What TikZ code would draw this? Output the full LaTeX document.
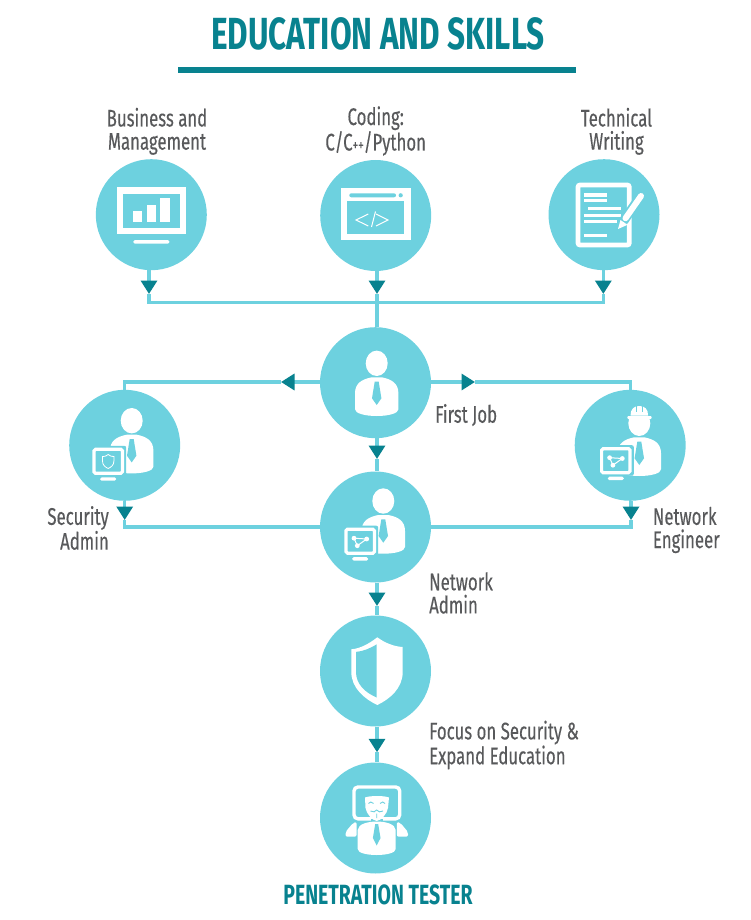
\documentclass[tikz,border=0pt]{standalone}
\usepackage{fontspec}
\setmainfont[FakeStretch=0.70,FakeBold=0.3,BoldFeatures={FakeStretch=0.70,FakeBold=0}]{Fira Sans}
\usetikzlibrary{arrows.meta,positioning}
\definecolor{skyTeal}{HTML}{6DD1DF}
\definecolor{deepTeal}{HTML}{08828F}
\definecolor{inkGray}{HTML}{58595B}
\tikzset{
    x=1pt, y=-1pt,
    badgeNode/.style={circle, fill=skyTeal, minimum size=111pt, inner sep=0pt},
    wire/.style={draw=skyTeal, line width=3.3pt},
    flow/.style={wire, -{Triangle[length=13.5pt, width=16pt, color=deepTeal, fill=deepTeal]}},
    textNode/.style={text=inkGray, font=\fontsize{24}{23.2}\selectfont, inner sep=0pt},
    headNode/.style={text=deepTeal, font=\bfseries\fontsize{45}{45}\selectfont, inner sep=0pt},
    pics/person/.style={code={
        \fill[white] (0,0) ellipse (11 and 12.7);
        \fill[white] (-5,14) .. controls (-15,16) and (-21.7,20) .. (-21.7,30) -- (-21.7,46)
            .. controls (-21.7,50) and (-12,52.7) .. (0,52.7)
            .. controls (12,52.7) and (21.7,50) .. (21.7,46) -- (21.7,30)
            .. controls (21.7,20) and (15,16) .. (5,14) -- cycle;
        \fill[skyTeal] (-2,18.4) -- (2,18.4) -- (4.7,35) -- (0,41.7) -- (-4.7,35) -- cycle;
    }},
    pics/screen/.style={code={
        \fill[skyTeal, rounded corners=2pt] (-18,-15.5) rectangle (18,15);
        \draw[white, line width=3.2pt, rounded corners=1.5pt] (-14.2,-12) rectangle (14.2,12);
        \fill[white, rounded corners=1.5pt] (-8,16) rectangle (8,19.4);
    }},
    pics/graphmark/.style={code={
        \draw[white, line width=1pt] (-6.2,-3) -- (6.5,-2.2) -- (-2.9,4.5) -- cycle;
        \fill[white] (-6.2,-3) circle (2.4) (6.5,-2.2) circle (2.4) (-2.9,4.5) circle (2.4);
    }},
}
\begin{document}
\begin{tikzpicture}
    \useasboundingbox (0,0) rectangle (750,920);

    % Title
    \node[headNode] (title) at (378,34) {EDUCATION AND SKILLS};
    \fill[deepTeal] (178,67) rectangle (576,73);

    % Circles
    \node[badgeNode] (biz) at (151.3,214.7) {};
    \node[badgeNode] (code) at (375.7,215.5) {};
    \node[badgeNode] (tech) at (604,214.7) {};
    \node[badgeNode] (first) at (375.5,382.7) {};
    \node[badgeNode] (secAdmin) at (124.7,445.3) {};
    \node[badgeNode] (netEng) at (630.2,445.3) {};
    \node[badgeNode] (netAdmin) at (375.5,527) {};
    \node[badgeNode] (focus) at (375.5,671) {};
    \node[badgeNode] (tester) at (375.5,818) {};

    % Labels
    \node[textNode, align=center, above=4pt of biz, xshift=5.7pt] (bizText) {Business and\\Management};
    \node[textNode, align=center, above=4pt of code] (codeText) {Coding:\\C/C{\fontsize{16}{16}\selectfont ++}/Python};
    \node[textNode, align=center, above=4pt of tech, xshift=12.5pt] (techText) {Technical\\Writing};
    \node[textNode, anchor=west] (firstText) at (435,415) {First Job};
    \node[textNode, align=right, anchor=east] (secText) at (109,528) {Security\\Admin};
    \node[textNode, align=left, anchor=west] (engText) at (652.7,530) {Network\\Engineer};
    \node[textNode, align=left, anchor=west] (adminText) at (429,593) {Network\\Admin};
    \node[textNode, align=left, anchor=west] (focusText) at (429,745) {Focus on Security \&\\Expand Education};
    \node[headNode, font=\bfseries\fontsize{27.8}{27.8}\selectfont] (testerText) at (378,895) {PENETRATION TESTER};

    % Arrow points and corners
    \coordinate (tipBiz) at (149,294);
    \coordinate (tipCode) at (377,294);
    \coordinate (tipTech) at (603.3,294);
    \coordinate (tipLeft) at (281,382);
    \coordinate (tipRight) at (475,382);
    \coordinate (tipFirst) at (377,459);
    \coordinate (tipSec) at (124.7,520);
    \coordinate (tipEng) at (631,520);
    \coordinate (tipAdmin) at (377,606);
    \coordinate (tipFocus) at (377,752.3);

    % Edges
    \draw[wire] (tipCode) -- (tipCode |- first.north);
    \draw[wire] (tipBiz) |- (tipCode |- 0,302.7) -| (tipTech);
    \draw[flow] (tipBiz |- biz.south) -- (tipBiz);
    \draw[flow] (tipCode |- code.south) -- (tipCode);
    \draw[flow] (tipTech |- tech.south) -- (tipTech);
    \draw[flow] (first.west |- tipLeft) -- (tipLeft);
    \draw[flow] (first.east |- tipRight) -- (tipRight);
    \draw[wire] (tipLeft) -| (secAdmin.north);
    \draw[wire] (tipRight) -| (netEng.north);
    \draw[flow] (tipFirst |- first.south) -- (tipFirst);
    \draw[wire] (tipFirst) -- (tipFirst |- netAdmin.north);
    \draw[flow] (tipSec |- secAdmin.south) -- (tipSec);
    \draw[flow] (tipEng |- netEng.south) -- (tipEng);
    \draw[wire] (tipSec) |- (netAdmin.west);
    \draw[wire] (tipEng) |- (netAdmin.east);
    \draw[flow] (tipAdmin |- netAdmin.south) -- (tipAdmin);
    \draw[wire] (tipAdmin) -- (tipAdmin |- focus.north);
    \draw[flow] (tipFocus |- focus.south) -- (tipFocus);
    \draw[wire] (tipFocus) -- (tipFocus |- tester.north);

    % Chart screen
    \draw[white, line width=6pt] (119.7,190.5) rectangle (183,231);
    \fill[white] (133,211.3) rectangle (142.3,222.3);
    \fill[white] (146.7,205.3) rectangle (156,222.3);
    \fill[white] (160.3,198.3) rectangle (169.7,222.3);
    \fill[white, rounded corners=1.5pt] (133.3,240) rectangle (169.3,243.7);

    % Code window
    \fill[white] (341,187.7) rectangle (410.7,240);
    \fill[skyTeal] (347.3,201) rectangle (404.3,234.3);
    \fill[skyTeal, rounded corners=2pt] (349.3,193.3) rectangle (396,197.3);
    \fill[skyTeal] (400.7,195.3) circle (2.1);
    \draw[white, line width=1pt] (368.3,214) -- (356,220) -- (368.3,226);
    \draw[white, line width=1pt] (375.5,211.5) -- (371.5,227);
    \draw[white, line width=1pt] (376,214) -- (388,220) -- (376,226);

    % Document and pencil
    \draw[white, line width=4.7pt, rounded corners=2pt] (578,185) rectangle (629.3,245);
    \fill[white] (584,193.3) rectangle (606.7,196.7);
    \fill[white] (584,198.7) rectangle (606.7,202);
    \fill[white] (588,207) rectangle (621.3,210.3);
    \fill[white] (584,213.7) rectangle (620.7,217);
    \fill[white] (584,219.7) rectangle (616.7,223);
    \fill[white] (584,234) rectangle (606.7,237.3);
    \draw[skyTeal, line width=9.5pt] (640.5,196.5) -- (623.5,221);
    \draw[white, line width=6pt, line cap=round] (641,196) -- (625.5,218.3);
    \fill[white] (618,229) -- (620.5,220) -- (627.5,224.8) -- cycle;

    % People
    \pic at (376.7,363.3) {person};
    \pic at (131.7,420.7) {person};
    \pic at (108.2,461.3) {screen};
    \draw[white, line width=.8pt] (108.2,454.5) .. controls (105,456.5) .. (102.5,456.5) -- (102.5,461) .. controls (102.5,465) and (105,467) .. (108.2,468.5) .. controls (111.4,467) and (113.9,465) .. (113.9,461) -- (113.9,456.5) .. controls (111.4,456.5) .. (108.2,454.5) -- cycle;
    \pic at (383.3,501) {person};
    \pic at (360.2,541.2) {screen};
    \pic at (360.2,541.2) {graphmark};
    \pic at (639.3,423.3) {person};
    \pic at (615.8,460.7) {screen};
    \pic at (615.8,460.7) {graphmark};

    % Hard hat
    \fill[skyTeal] (626,405) rectangle (653,419.3);
    \fill[white] (630.5,415.5) .. controls (630.5,409) and (634,406) .. (639.3,406) .. controls (644.6,406) and (648.1,409) .. (648.1,415.5) -- cycle;
    \fill[white, rounded corners=1pt] (627.3,416) rectangle (651.7,419);
    \draw[skyTeal, line width=.8pt] (636,405.5) -- (636,412) (642.6,405.5) -- (642.6,412);

    % Shield
    \fill[white] (377.3,637.3) .. controls (385,643) and (394,646.5) .. (402.7,647) -- (402.7,672)
        .. controls (402.7,688) and (390,699) .. (377.3,705)
        .. controls (364.6,699) and (351.3,688) .. (351.3,672) -- (351.3,649.3)
        .. controls (361,648.5) and (370,643) .. (377.3,637.3) -- cycle;
    \fill[skyTeal] (376.7,644.3) .. controls (370,648.5) and (363,651.3) .. (356,651.9) -- (356,672)
        .. controls (356,684) and (365,692.5) .. (376.7,697.5) -- cycle;

    % Masked tester
    \draw[white, line width=3.4pt, rounded corners=4pt] (354,787) rectangle (399.7,818.8);
    \fill[white, rounded corners=2pt] (345.5,836.7) -- (345.5,832) -- (353,823) -- (356.6,821.8) -- (356.6,836.7) -- cycle;
    \fill[white, rounded corners=2pt] (408,836.7) -- (408,832) -- (400.5,823) -- (396.8,821.8) -- (396.8,836.7) -- cycle;
    \fill[skyTeal] (371,819) rectangle (383,825);
    \fill[white] (357.7,830) .. controls (358,824) and (368,821.5) .. (376.7,821.5)
        .. controls (385.5,821.5) and (395.4,824) .. (395.7,830) -- (395.7,849)
        .. controls (395.7,853) and (386,855) .. (376.7,855)
        .. controls (367,855) and (357.7,853) .. (357.7,849) -- cycle;
    \fill[skyTeal] (375.2,824) -- (378.2,824) -- (380.5,838) -- (376.7,845.5) -- (372.9,838) -- cycle;
    \fill[white] (365,797.5) .. controls (370,795.5) and (384,795.5) .. (389,797.5) -- (388,808)
        .. controls (387,814) and (381,820.5) .. (376.7,821) .. controls (372.5,820.5) and (366.5,814) .. (365.5,808) -- cycle;
    \draw[skyTeal, line width=.9pt] (368.5,803.5) .. controls (369.5,801.5) and (372,801.5) .. (373.5,803.5)
        (380,803.5) .. controls (381.5,801.5) and (384,801.5) .. (385,803.5)
        (370.5,811) .. controls (373,812.5) and (375.5,812) .. (376.7,810) .. controls (378,812) and (380.5,812.5) .. (383,811)
        (376.7,813.5) -- (376.7,818);
\end{tikzpicture}
\end{document}
